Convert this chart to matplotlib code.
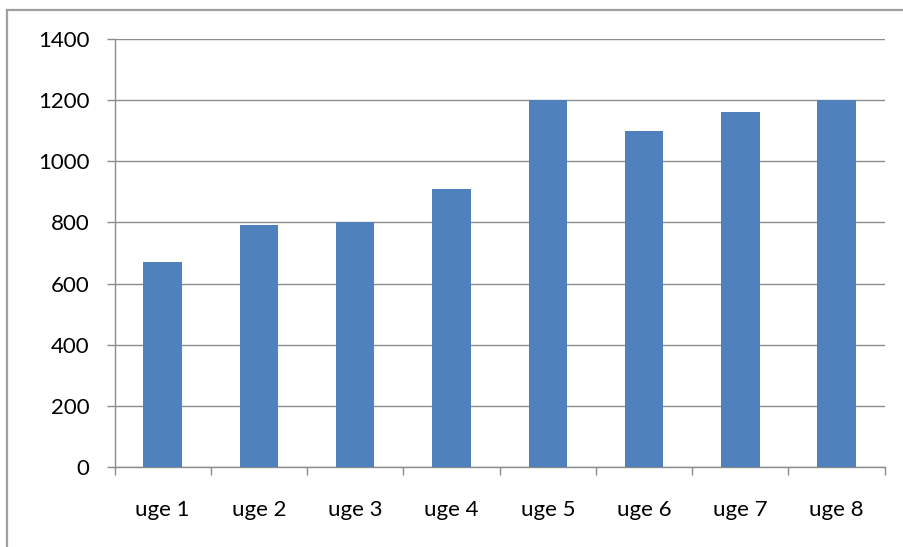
import matplotlib
matplotlib.use("Agg")
import matplotlib.pyplot as plt
from matplotlib.lines import Line2D
from matplotlib.ticker import FixedLocator, MultipleLocator

plt.rcParams.update({
    "font.family": ["Lato", "DejaVu Sans"],
    "font.size": 16,
})

weeks = ["uge 1", "uge 2", "uge 3", "uge 4", "uge 5", "uge 6", "uge 7", "uge 8"]
values = [670, 790, 800, 910, 1200, 1100, 1160, 1200]

BAR = "#4F81BD"
GRID = "#8C8C8C"
FRAME = "#A0A0A0"

fig = plt.figure(figsize=(9.04, 5.47), dpi=100)
ax = fig.add_axes([0.1267, 0.1463, 0.852, 0.7824])

x = list(range(len(weeks)))
ax.bar(x, values, width=0.4, color=BAR, zorder=3)

ax.set_xlim(-0.5, len(weeks) - 0.5)
ax.set_ylim(0, 1400)
ax.yaxis.set_major_locator(MultipleLocator(200))
ax.grid(True, axis="y", color=GRID, lw=1.0, zorder=0)

ax.set_xticks(x)
ax.set_xticklabels(weeks)
ax.xaxis.set_minor_locator(FixedLocator([i - 0.5 for i in range(len(weeks) + 1)]))
ax.tick_params(axis="x", which="major", length=0, pad=24)
ax.tick_params(axis="x", which="minor", length=6, color=GRID, width=1.0)
ax.tick_params(axis="y", length=6, color=GRID, width=1.0, pad=12)

for side in ("top", "right"):
    ax.spines[side].set_visible(False)
for side in ("left", "bottom"):
    ax.spines[side].set_color(GRID)
    ax.spines[side].set_linewidth(1.0)

# outer chart frame (only the top and left edges fall inside the picture)
fig.add_artist(Line2D([0.0072, 1.0], [0.9826, 0.9826], transform=fig.transFigure,
                      color=FRAME, lw=1.6))
fig.add_artist(Line2D([0.0072, 0.0072], [0.0, 0.9826], transform=fig.transFigure,
                      color=FRAME, lw=1.6))

fig.savefig("out.png", dpi=100)
